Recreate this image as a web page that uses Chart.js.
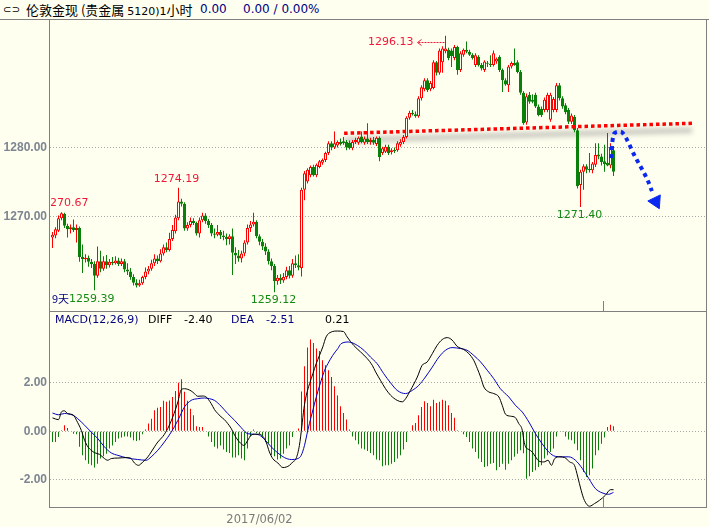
<!DOCTYPE html>
<html>
<head>
<meta charset="utf-8">
<script src="https://cdn.jsdelivr.net/npm/chart.js@4.4.0/dist/chart.umd.min.js"></script>
<style>
  body { margin: 0; background: #fffff0; width: 709px; height: 527px; overflow: hidden; position: relative; font-family: 'DejaVu Sans', sans-serif; }
  .t { position: absolute; white-space: nowrap; line-height: 13px; }
  #hline { position: absolute; left: 0; top: 19px; width: 709px; height: 1px; background: #808080; z-index: 2; }
  canvas { position: absolute; left: 0; }
  .navy { color: #000080; }
</style>
</head>
<body>
<div class="t" style="left:3px;top:3px;font-size:10px;">⊂⊃</div>
<div class="t" style="left:26px;top:3px;font-size:13px;font-family:'Noto Sans CJK SC';">伦敦金现 (贵金属 <span style="font-size:11px;font-family:'DejaVu Sans'">5120)1</span>小时</div>
<div class="t navy" style="left:200px;top:3px;font-size:12px;">0.00</div>
<div class="t navy" style="left:243px;top:3px;font-size:12px;">0.00 / 0.00%</div>
<div id="hline"></div>

<canvas id="main" width="709" height="292" style="top:19px"></canvas>
<canvas id="macd" width="709" height="216" style="top:311px"></canvas>

<div class="t navy" style="left:55px;top:313px;font-size:11px;">MACD(12,26,9)</div>
<div class="t" style="left:148px;top:313px;font-size:11px;">DIFF</div>
<div class="t" id="vDiff" style="left:184px;top:313px;font-size:11px;"></div>
<div class="t navy" style="left:231px;top:313px;font-size:11px;">DEA</div>
<div class="t navy" id="vDea" style="left:266px;top:313px;font-size:11px;"></div>
<div class="t" id="vHist" style="left:325px;top:313px;font-size:11px;"></div>

<script>
// hourly candles, London gold
const candleOpen = [
  1267.0, 1267.3, 1268.0, 1269.8, 1270.4, 1268.7, 1268.2, 1268.5, 1268.1, 1268.4,
  1264.2, 1263.9, 1264.1, 1263.5, 1263.2, 1261.5, 1263.6, 1262.5, 1263.6, 1263.0,
  1263.5, 1263.3, 1263.7, 1263.2, 1263.6, 1262.4, 1262.1, 1261.3, 1260.5, 1260.1,
  1260.4, 1261.3, 1262.1, 1262.5, 1263.3, 1264.0, 1263.6, 1264.7, 1265.6, 1265.2,
  1266.8, 1267.9, 1269.8, 1272.2, 1271.9, 1268.3, 1268.8, 1269.4, 1269.1, 1267.6,
  1269.5, 1270.2, 1269.4, 1268.8, 1267.6, 1267.4, 1267.8, 1267.3, 1267.1, 1266.8,
  1267.2, 1264.8, 1264.4, 1264.0, 1264.7, 1266.3, 1268.4, 1268.9, 1269.3, 1267.2,
  1266.4, 1265.7, 1265.0, 1263.6, 1262.9, 1260.7, 1261.2, 1260.8, 1261.3, 1262.3,
  1261.5, 1263.3, 1263.0, 1262.6, 1273.9, 1275.1, 1276.0, 1277.2, 1276.0, 1277.2,
  1277.8, 1278.2, 1279.2, 1280.6, 1280.0, 1280.3, 1280.8, 1280.9, 1280.8, 1280.7,
  1279.9, 1280.8, 1280.7, 1281.6, 1280.7, 1281.3, 1280.8, 1281.1, 1280.5, 1281.4,
  1279.2, 1279.4, 1280.1, 1279.3, 1279.6, 1279.6, 1280.4, 1280.8, 1281.5, 1284.3,
  1285.0, 1284.8, 1284.5, 1287.1, 1288.4, 1289.7, 1288.4, 1288.6, 1292.3, 1290.8,
  1292.3, 1293.9, 1294.1, 1294.0, 1292.9, 1294.5, 1291.2, 1293.4, 1294.1, 1293.8,
  1293.4, 1291.9, 1293.1, 1291.9, 1291.2, 1292.2, 1292.1, 1291.9, 1292.4, 1293.1,
  1291.2, 1289.7, 1289.0, 1291.7, 1292.2, 1292.3, 1290.9, 1287.9, 1283.6, 1287.6,
  1286.9, 1287.6, 1285.9, 1285.6, 1285.4, 1285.4, 1284.0, 1285.4, 1285.4, 1289.0,
  1287.1, 1286.1, 1285.4, 1283.7, 1284.4, 1282.5, 1274.6, 1276.5, 1277.3, 1276.9,
  1276.7, 1277.5, 1279.0, 1278.7, 1278.0, 1277.8, 1277.4, 1279.6
];
const candleHigh = [
  1267.8, 1268.5, 1270.2, 1270.67, 1270.6, 1269.0, 1268.9, 1269.6, 1268.9, 1268.6,
  1266.0, 1264.6, 1264.4, 1263.9, 1263.6, 1265.7, 1265.1, 1264.3, 1264.5, 1263.9,
  1264.2, 1264.3, 1264.1, 1264.0, 1263.9, 1263.3, 1262.6, 1261.7, 1261.0, 1260.9,
  1261.5, 1262.7, 1262.9, 1263.8, 1264.6, 1264.4, 1265.3, 1266.0, 1266.3, 1267.7,
  1268.8, 1270.3, 1274.19, 1272.6, 1272.1, 1269.2, 1269.9, 1269.8, 1269.3, 1269.9,
  1270.6, 1270.5, 1269.7, 1269.1, 1268.3, 1268.8, 1268.1, 1268.0, 1267.6, 1267.5,
  1268.3, 1265.6, 1265.2, 1265.1, 1266.6, 1268.9, 1269.4, 1270.6, 1269.5, 1267.5,
  1266.8, 1266.2, 1265.3, 1264.0, 1263.2, 1261.6, 1261.7, 1261.9, 1262.8, 1262.9,
  1263.9, 1264.4, 1264.6, 1274.2, 1276.6, 1277.0, 1277.4, 1277.5, 1277.7, 1278.2,
  1278.4, 1279.4, 1280.9, 1280.9, 1282.3, 1281.0, 1281.3, 1281.5, 1281.1, 1281.0,
  1281.1, 1281.4, 1281.6, 1282.3, 1281.6, 1283.5, 1281.4, 1281.5, 1281.6, 1281.6,
  1280.1, 1280.4, 1280.4, 1279.9, 1280.0, 1280.9, 1281.2, 1281.8, 1284.5, 1285.3,
  1285.4, 1285.2, 1287.4, 1289.0, 1290.0, 1290.0, 1289.6, 1292.6, 1292.5, 1294.3,
  1294.6, 1296.13, 1294.4, 1294.3, 1294.8, 1294.7, 1293.9, 1294.3, 1295.3, 1294.1,
  1293.6, 1293.6, 1293.3, 1292.2, 1292.6, 1292.5, 1293.3, 1294.0, 1293.0, 1293.3,
  1291.4, 1290.0, 1291.9, 1292.4, 1294.3, 1292.6, 1291.2, 1288.1, 1287.8, 1288.0,
  1287.7, 1287.9, 1286.2, 1285.9, 1287.2, 1287.9, 1287.9, 1287.3, 1289.3, 1289.3,
  1287.4, 1286.4, 1285.7, 1284.9, 1284.7, 1282.8, 1276.8, 1277.6, 1277.6, 1279.2,
  1277.9, 1280.6, 1280.6, 1279.1, 1280.4, 1282.1, 1280.6, 1280.2
];
const candleLow = [
  1265.5, 1266.9, 1267.8, 1269.5, 1268.4, 1267.0, 1267.6, 1267.8, 1266.3, 1263.5,
  1261.9, 1263.4, 1262.8, 1262.6, 1259.39, 1261.2, 1262.0, 1262.2, 1262.5, 1262.7,
  1263.0, 1263.1, 1262.9, 1262.9, 1262.0, 1261.6, 1260.9, 1260.1, 1259.8, 1259.9,
  1260.2, 1261.0, 1261.7, 1262.2, 1262.9, 1263.2, 1263.4, 1264.4, 1264.9, 1265.0,
  1266.5, 1267.6, 1269.5, 1271.5, 1268.0, 1268.0, 1268.5, 1268.8, 1267.3, 1267.0,
  1269.2, 1269.0, 1268.4, 1267.2, 1266.9, 1267.2, 1266.8, 1266.6, 1265.9, 1266.0,
  1261.6, 1263.2, 1263.5, 1263.4, 1264.3, 1266.0, 1267.8, 1268.6, 1266.9, 1265.9,
  1265.2, 1264.5, 1263.1, 1262.3, 1259.12, 1260.2, 1260.3, 1260.5, 1261.0, 1261.1,
  1261.2, 1262.6, 1262.3, 1261.4, 1272.4, 1274.8, 1275.7, 1275.8, 1275.7, 1277.0,
  1277.5, 1277.9, 1278.9, 1279.6, 1279.8, 1280.0, 1280.3, 1280.4, 1279.6, 1279.7,
  1279.6, 1280.5, 1280.4, 1280.6, 1280.4, 1280.5, 1280.4, 1280.4, 1280.2, 1278.0,
  1278.9, 1279.2, 1278.9, 1279.0, 1279.2, 1279.4, 1280.1, 1280.5, 1281.3, 1284.0,
  1284.6, 1284.3, 1284.3, 1286.8, 1288.1, 1288.0, 1288.1, 1288.4, 1290.4, 1290.5,
  1290.8, 1293.6, 1292.6, 1291.6, 1292.6, 1290.5, 1290.9, 1293.1, 1293.6, 1293.2,
  1292.7, 1291.6, 1291.7, 1291.1, 1290.9, 1291.6, 1291.6, 1291.7, 1292.1, 1290.9,
  1288.0, 1288.9, 1288.0, 1291.4, 1291.8, 1290.7, 1287.6, 1283.3, 1283.3, 1286.3,
  1286.4, 1285.7, 1284.5, 1284.4, 1285.1, 1285.1, 1283.7, 1285.1, 1285.1, 1286.8,
  1285.6, 1284.8, 1283.4, 1283.4, 1282.2, 1274.1, 1271.40, 1273.9, 1276.3, 1276.4,
  1276.3, 1277.2, 1278.3, 1277.4, 1276.5, 1277.3, 1277.0, 1275.9
];
const candleClose = [
  1267.4, 1268.2, 1269.8, 1270.5, 1268.7, 1268.2, 1268.5, 1268.1, 1268.4, 1264.2,
  1263.9, 1264.1, 1263.5, 1263.2, 1261.5, 1263.6, 1262.5, 1263.6, 1263.0, 1263.5,
  1263.3, 1263.7, 1263.2, 1263.6, 1262.4, 1262.1, 1261.3, 1260.5, 1260.1, 1260.4,
  1261.3, 1262.1, 1262.5, 1263.3, 1264.0, 1263.6, 1264.7, 1265.6, 1265.2, 1266.8,
  1268.1, 1269.9, 1272.2, 1271.9, 1268.3, 1268.8, 1269.4, 1269.1, 1267.6, 1269.5,
  1270.2, 1269.4, 1268.8, 1267.6, 1267.4, 1267.8, 1267.3, 1267.1, 1266.8, 1267.2,
  1264.8, 1264.4, 1264.0, 1264.7, 1266.3, 1268.4, 1268.9, 1269.3, 1267.2, 1266.4,
  1265.7, 1265.0, 1263.6, 1262.9, 1260.7, 1261.2, 1260.8, 1261.3, 1262.3, 1261.5,
  1263.3, 1263.0, 1262.7, 1273.9, 1276.3, 1276.8, 1277.2, 1276.0, 1277.5, 1278.0,
  1278.2, 1279.2, 1280.6, 1280.0, 1280.6, 1280.8, 1280.5, 1280.6, 1280.0, 1279.9,
  1280.8, 1281.1, 1281.4, 1280.8, 1281.3, 1280.8, 1281.1, 1280.7, 1281.4, 1278.6,
  1279.9, 1280.1, 1279.2, 1279.6, 1279.5, 1280.6, 1280.8, 1281.5, 1284.3, 1285.0,
  1284.8, 1284.5, 1287.1, 1288.7, 1289.7, 1288.3, 1289.3, 1292.3, 1290.8, 1294.0,
  1294.3, 1294.3, 1292.9, 1293.2, 1294.5, 1291.2, 1293.6, 1294.1, 1293.8, 1293.4,
  1292.9, 1293.3, 1291.9, 1291.4, 1292.4, 1292.1, 1291.9, 1293.6, 1292.8, 1291.2,
  1289.7, 1289.1, 1291.7, 1292.2, 1291.9, 1290.9, 1287.9, 1283.5, 1287.4, 1286.6,
  1286.6, 1285.9, 1284.7, 1284.7, 1286.9, 1287.6, 1287.6, 1287.0, 1289.0, 1287.1,
  1285.9, 1285.1, 1283.7, 1284.6, 1282.5, 1274.4, 1276.5, 1277.3, 1276.8, 1276.7,
  1277.7, 1278.9, 1278.7, 1277.9, 1277.6, 1277.4, 1280.1, 1276.5
];

// MACD(12,26,9) histogram, one bar per candle
const macdHist = [
  -0.44, -0.44, -0.23, 0.04, 0.25, 0.14, 0, -0.10, -0.12, -0.64,
  -0.99, -1.19, -1.33, -1.40, -1.49, -1.33, -1.12, -1.03, -0.92, -0.71,
  -0.58, -0.44, -0.30, -0.26, -0.21, -0.21, -0.26, -0.37, -0.40, -0.37,
  -0.12, 0.07, 0.32, 0.52, 0.86, 0.97, 1.00, 1.25, 1.21, 1.27,
  1.41, 1.66, 1.99, 2.14, 1.62, 1.25, 0.93, 0.66, 0.21, 0.18,
  0.18, 0, -0.21, -0.44, -0.64, -0.71, -0.58, -0.75, -0.85, -0.89,
  -1.08, -1.08, -0.99, -1.12, -1.19, -0.71, -0.21, 0.07, -0.07, -0.12,
  -0.21, -0.44, -0.51, -0.99, -1.03, -1.16, -1.12, -0.92, -0.71, -0.58,
  -0.23, 0, 0.11, 1.64, 2.67, 3.44, 3.77, 3.63, 3.40, 3.30,
  2.92, 2.71, 2.51, 2.23, 1.85, 1.47, 1.03, 0.75, 0.48, 0.07,
  -0.21, -0.37, -0.53, -0.71, -0.75, -0.81, -0.89, -0.99, -1.16, -1.19,
  -1.44, -1.40, -1.40, -1.33, -1.26, -1.12, -0.99, -0.75, -0.44, 0,
  0.25, 0.34, 0.66, 1.00, 1.23, 1.16, 1.03, 1.30, 1.16, 1.21,
  1.30, 1.25, 1.07, 0.75, 0.56, 0.04, 0, -0.12, -0.23, -0.44,
  -0.71, -0.85, -1.12, -1.26, -1.47, -1.44, -1.33, -1.30, -1.60, -1.47,
  -1.33, -1.58, -1.33, -1.19, -1.05, -0.92, -0.78, -0.90, -1.95, -1.85,
  -1.67, -1.60, -1.47, -1.40, -1.12, -0.99, -0.85, -0.71, -0.21, 0,
  -0.03, -0.21, -0.34, -0.37, -0.51, -0.78, -1.19, -1.67, -1.88, -1.81,
  -1.53, -0.99, -0.78, -0.51, -0.26, 0.18, 0.27, 0.21
];

// DIFF and DEA lines, read at candle positions
const diffX = [0,2,3,4,5,7,8,9.6,10.7,11.8, 12.9,14,15.7,17.3,18.4,19.6,21.8,25.1,26.2,27.3,
  28.7,30.1,31.8,32.9,34,35.1,36.8,38.4,40.1,41.8, 42.9,44,46.2,47.3,48.4,50.1,51.2,52.9,54,55.1,
  56.2,57.3,58.4,59.6,60.7,62.3,63.8,65.1,66.2,67.6, 69,70.1,71.2,72.3,73.4,75.1,76.8,77.9,79,80.1,
  81.2,82.3,83.1,83.8,84.6,85.7,86.8,87.9,89,90.1, 91.2,92.9,95,97,98.2,100.4,102.7,104.9,106.6,107.7,
  109.3,111,112.7,114.9,116.6,117.7,119.3,121.6,123.2,124.9, 126.6,128.2,129.9,131.6,133.2,134.9,137.1,138.8,140.4,141.6,
  142.7,143.8,145.4,147.1,148.8,149.9,151,152.7,154.3,155.4, 156.6,157.1,157.7,158.8,159.9,161,162.1,163.8,165.2,166.3,
  167.4,169.1,170.7,172.4,174,175.1,176.2,177.3,179,180.7, 182.3,184.3,186,187];
const diffY = [0.55,0.48,0.80,0.84,0.73,0.66,0.45,0.04,-0.37,-0.64, -0.78,-0.88,-0.95,-1.12,-1.19,-1.12,-1.10,-1.08,-1.12,-1.30,
  -1.40,-1.26,-1.05,-0.85,-0.64,-0.44,-0.21,0.11,0.59,1.21, 1.71,1.75,1.66,1.55,1.44,1.45,1.41,1.14,0.89,0.73,
  0.59,0.48,0.32,0.11,-0.16,-0.44,-0.58,-0.37,-0.16,-0.12, -0.12,-0.21,-0.44,-0.85,-1.12,-1.30,-1.49,-1.47,-1.40,-1.26,
  -1.12,-0.58,0.18,0.93,1.48,1.96,2.37,2.78,3.12,3.47, 3.88,4.08,4.12,4.10,3.88,3.53,3.26,2.99,2.71,2.44,
  2.10,1.75,1.48,1.27,1.21,1.34,1.68,2.23,2.71,2.85, 3.19,3.53,3.77,3.85,3.75,3.49,3.36,3.19,2.92,2.58,
  2.23,1.82,1.62,1.55,1.41,1.07,0.70,0.62,0.56,0.32, 0.04,-0.37,-0.64,-0.75,-0.85,-1.05,-1.22,-1.26,-1.19,-1.40,
  -1.12,-1.05,-1.08,-1.26,-1.40,-1.88,-2.42,-2.84,-3.08,-2.97, -2.84,-2.63,-2.40,-2.40];
const deaX = [0,2,4,6.8,8.4,10.7,12.9,15.1,17.3,19.6, 21.8,25.1,28.4,31.2,32.9,35.1,37.3,39.6,41.8,44,
  46.2,48.4,50.7,52.3,54,56.2,58.4,60.7,62.9,65.1, 67.3,69,70.7,72.9,75.1,77.3,79.6,81.8,82.9,84,
  85.1,86.2,87.3,88.4,89.6,90.7,91.8,93.4,95.1,96.2, 98.8,101.6,103.8,106,108.2,110.4,112.7,114.9,117.7,119.9,
  122.1,124.3,126.6,128.8,131,133.2,136,138.2,140.4,142.7, 144.9,147.1,149.3,152.1,154.3,156.6,158.8,161,163.2,165.4,
  167.6,170,172.1,174.3,176.6,178.8,181,183.2,185.4,187];
const deaY = [0.75,0.68,0.73,0.66,0.52,0.25,-0.03,-0.30,-0.64,-0.89, -0.99,-1.10,-1.16,-1.19,-1.05,-0.78,-0.44,-0.03,0.45,1.00,
  1.27,1.34,1.37,1.34,1.27,1.03,0.73,0.45,0.15,-0.10, -0.12,-0.16,-0.34,-0.64,-0.89,-1.08,-1.16,-1.12,-0.99,-0.58,
  0.04,0.59,1.11,1.62,2.10,2.51,2.78,3.12,3.40,3.60, 3.67,3.53,3.33,3.05,2.78,2.37,1.99,1.68,1.55,1.68,
  1.89,2.23,2.64,3.05,3.33,3.44,3.40,3.33,3.12,2.85, 2.51,2.16,1.75,1.41,1.07,0.79,0.38,-0.10,-0.51,-0.85,
  -1.03,-1.05,-1.05,-1.19,-1.53,-1.95,-2.36,-2.53,-2.59,-2.51];

// hand drawn marks: neckline and projected arrow (candle index, price)
const trendX = [97.2, 213.2];
const trendY = [1282.05, 1283.49];
const arrowX = [186.2, 186.7, 187.5, 189.2, 190.1, 194.2, 198.6, 199.8];
const arrowY = [1278.48, 1281.08, 1282.14, 1282.28, 1282.09, 1278.67, 1275.06, 1273.7];
const arrowHeadX = [201.1];
const arrowHeadY = [1272.2];

const priceTicks = [1270, 1280];
const macdTicks = [-2, 0, 2];
const dateLabels = ['2017/06/02'];
const dateIdx = [69];
const highMarks = [3, 42];
const lowMarks = [74, 176];
const rangeLowIdx = 14;
const rangeLowText = '9天';
const cursorIdx = 183.5;

const X_MIN = -0.8333333, X_MAX = X_MIN + 656 / 3;
const BG = '#fffff0', UP = '#ff0000', DOWN = '#0a800a', AXIS = '#808080';
const LBL_RED = '#f01838', LBL_GREEN = '#138a13';

const idx = candleOpen.map((_, i) => i);
const isUp = i => candleClose[i] >= candleOpen[i];

document.getElementById('vDiff').textContent = diffY[diffY.length - 1].toFixed(2);
document.getElementById('vDea').textContent = deaY[deaY.length - 1].toFixed(2);
document.getElementById('vHist').textContent = macdHist[macdHist.length - 1].toFixed(2);

function frame(drawTop) {
  return {
    id: 'frame',
    afterDraw(chart) {
      const a = chart.chartArea, ctx = chart.ctx;
      const cx = chart.scales.x.getPixelForValue(cursorIdx);
      ctx.save();
      ctx.strokeStyle = AXIS;
      ctx.lineWidth = 1;
      ctx.beginPath();
      ctx.moveTo(a.left - 0.5, 0); ctx.lineTo(a.left - 0.5, a.bottom + 1);
      ctx.moveTo(a.right + 0.5, 0); ctx.lineTo(a.right + 0.5, a.bottom + 1);
      if (drawTop) {
        ctx.moveTo(a.left, 0.5); ctx.lineTo(a.right, 0.5);
        ctx.moveTo(a.left - 1, a.bottom + 0.5); ctx.lineTo(a.right + 1, a.bottom + 0.5);
      }
      ctx.moveTo(Math.round(cx) + 0.5, a.bottom - 10); ctx.lineTo(Math.round(cx) + 0.5, a.bottom);
      ctx.stroke();
      ctx.restore();
    }
  };
}

const trendShadow = {
  id: 'trendShadow',
  beforeDatasetsDraw(chart) {
    const pts = chart.getDatasetMeta(0).data;
    const ctx = chart.ctx;
    ctx.save();
    ctx.filter = 'blur(2.5px)';
    ctx.strokeStyle = 'rgba(140,140,140,0.45)';
    ctx.lineWidth = 6;
    ctx.beginPath();
    ctx.moveTo(pts[0].x, pts[0].y + 7);
    ctx.lineTo(pts[1].x, pts[1].y + 7);
    ctx.stroke();
    ctx.restore();
  }
};

const priceMarks = {
  id: 'priceMarks',
  afterDatasetsDraw(chart) {
    const a = chart.chartArea, ctx = chart.ctx;
    const xs = chart.scales.x, ys = chart.scales.y;
    ctx.save();
    ctx.beginPath();
    ctx.rect(a.left + 1, a.top, a.right - a.left, a.bottom - a.top);
    ctx.clip();
    ctx.font = "11px 'DejaVu Sans'";
    ctx.textBaseline = 'middle';

    // highest high with arrow
    let top = 0;
    idx.forEach(i => { if (candleHigh[i] > candleHigh[top]) top = i; });
    const tx = xs.getPixelForValue(top), ty = ys.getPixelForValue(candleHigh[top]) + 6.5;
    ctx.fillStyle = LBL_RED;
    ctx.textAlign = 'right';
    ctx.fillText(candleHigh[top].toFixed(2), tx - 32, ty);
    ctx.strokeStyle = LBL_RED;
    ctx.lineWidth = 1;
    ctx.setLineDash([2, 1]);
    ctx.beginPath();
    ctx.moveTo(tx - 1, Math.round(ty) + 0.5); ctx.lineTo(tx - 28, Math.round(ty) + 0.5);
    ctx.stroke();
    ctx.setLineDash([]);
    ctx.beginPath();
    ctx.moveTo(tx - 24, Math.round(ty) - 2.5); ctx.lineTo(tx - 28, Math.round(ty) + 0.5); ctx.lineTo(tx - 24, Math.round(ty) + 3.5);
    ctx.stroke();

    // local highs and lows
    ctx.textAlign = 'left';
    const oneW = ctx.measureText('1').width;
    highMarks.forEach(i => {
      const s = candleHigh[i].toFixed(2), w = ctx.measureText(s).width;
      const px = Math.max(xs.getPixelForValue(i) - 2 - w / 2, a.left - oneW);
      ctx.fillStyle = LBL_RED;
      ctx.fillText(s, px, ys.getPixelForValue(candleHigh[i]) - 9);
    });
    lowMarks.forEach(i => {
      const s = candleLow[i].toFixed(2), w = ctx.measureText(s).width;
      ctx.fillStyle = LBL_GREEN;
      ctx.fillText(s, xs.getPixelForValue(i) - 1 - w / 2, ys.getPixelForValue(candleLow[i]) + 8);
    });

    // period low, bottom left
    ctx.fillStyle = '#000080';
    ctx.font = "11px 'Noto Sans CJK SC'";
    ctx.fillText(rangeLowText, a.left + 2, a.bottom - 12);
    const w1 = ctx.measureText(rangeLowText).width;
    ctx.font = "11px 'DejaVu Sans'";
    ctx.fillStyle = LBL_GREEN;
    ctx.fillText(candleLow[rangeLowIdx].toFixed(2), a.left + 2 + w1, a.bottom - 12);
    ctx.restore();
  }
};

const dateAxis = {
  id: 'dateAxis',
  afterDraw(chart) {
    const a = chart.chartArea, ctx = chart.ctx, xs = chart.scales.x;
    ctx.save();
    ctx.font = "11.5px 'DejaVu Sans'";
    ctx.fillStyle = '#7a7a7a';
    ctx.textAlign = 'center';
    ctx.textBaseline = 'middle';
    dateLabels.forEach((s, k) => ctx.fillText(s, xs.getPixelForValue(dateIdx[k]), a.bottom + 13));
    ctx.restore();
  }
};

function yAxis(min, max, ticks, fmt) {
  return {
    min: min, max: max,
    position: 'left',
    afterFit: s => { s.width = 50; s.paddingTop = 0; s.paddingBottom = 0; },
    afterBuildTicks: s => { s.ticks = ticks.map(v => ({ value: v })); },
    ticks: { padding: 3, color: '#7c8590', font: { family: 'Liberation Sans', size: 12, weight: 'bold' }, callback: fmt },
    grid: { color: '#a8a8a8', drawTicks: false, lineWidth: 1 },
    border: { display: false, dash: [1, 2] }
  };
}

const xAxis = { type: 'linear', min: X_MIN, max: X_MAX, display: false, offset: false };
const common = {
  responsive: false, animation: false, devicePixelRatio: 1,
  plugins: { legend: { display: false }, tooltip: { enabled: false } }
};

new Chart(document.getElementById('main'), {
  type: 'bar',
  data: {
    datasets: [
      {
        type: 'line', order: 0,
        data: trendX.map((x, k) => ({ x: x, y: trendY[k] })),
        borderColor: '#ff0000', borderWidth: 3.5, borderDash: [3.5, 3], pointRadius: 0
      },
      {
        type: 'line', order: 0,
        data: arrowX.map((x, k) => ({ x: x, y: arrowY[k] })),
        borderColor: '#0a28f0', borderWidth: 4, borderDash: [4, 4], pointRadius: 0,
        tension: 0.4, cubicInterpolationMode: 'monotone'
      },
      {
        type: 'line', order: 0,
        data: arrowHeadX.map((x, k) => ({ x: x, y: arrowHeadY[k] })),
        showLine: false, pointStyle: 'triangle', pointRadius: 8, pointRotation: 154,
        pointBackgroundColor: '#0a28f0', pointBorderColor: '#0a28f0', pointBorderWidth: 1
      },
      {
        order: 1, grouped: false,
        data: idx.map(i => ({ x: i, y: [candleOpen[i], candleClose[i]] })),
        backgroundColor: c => isUp(c.dataIndex) ? BG : DOWN,
        borderColor: c => isUp(c.dataIndex) ? UP : DOWN,
        borderWidth: 1, borderSkipped: false, inflateAmount: 0, minBarLength: 1,
        categoryPercentage: 1, barPercentage: 1
      },
      {
        order: 2, grouped: false,
        data: idx.map(i => ({ x: i, y: [candleLow[i], candleHigh[i]] })),
        backgroundColor: c => isUp(c.dataIndex) ? UP : DOWN,
        borderWidth: 0, inflateAmount: 0,
        categoryPercentage: 1, barPercentage: 1 / 3
      }
    ]
  },
  options: Object.assign({}, common, {
    layout: { padding: { left: 0, right: 3, top: 0, bottom: 0 }, autoPadding: false },
    scales: {
      x: xAxis,
      y: yAxis(1256.407, 1298.543, priceTicks, v => v.toFixed(2))
    }
  }),
  plugins: [trendShadow, frame(false), priceMarks]
});

new Chart(document.getElementById('macd'), {
  type: 'bar',
  data: {
    datasets: [
      {
        type: 'line', order: 0,
        data: diffX.map((x, k) => ({ x: x, y: diffY[k] })),
        borderColor: '#000000', borderWidth: 1, pointRadius: 0,
        tension: 0.3, cubicInterpolationMode: 'monotone'
      },
      {
        type: 'line', order: 1,
        data: deaX.map((x, k) => ({ x: x, y: deaY[k] })),
        borderColor: '#0000c0', borderWidth: 1, pointRadius: 0,
        tension: 0.3, cubicInterpolationMode: 'monotone'
      },
      {
        order: 2, grouped: false,
        data: idx.map(i => ({ x: i, y: macdHist[i] })),
        backgroundColor: c => macdHist[c.dataIndex] >= 0 ? UP : DOWN,
        borderWidth: 0, inflateAmount: 0,
        categoryPercentage: 1, barPercentage: 1 / 3
      }
    ]
  },
  options: Object.assign({}, common, {
    layout: { padding: { left: 0, right: 3, top: 0, bottom: 20 }, autoPadding: false },
    scales: {
      x: xAxis,
      y: yAxis(-3.112, 4.944, macdTicks, v => v.toFixed(2))
    }
  }),
  plugins: [frame(true), dateAxis]
});
</script>
</body>
</html>
